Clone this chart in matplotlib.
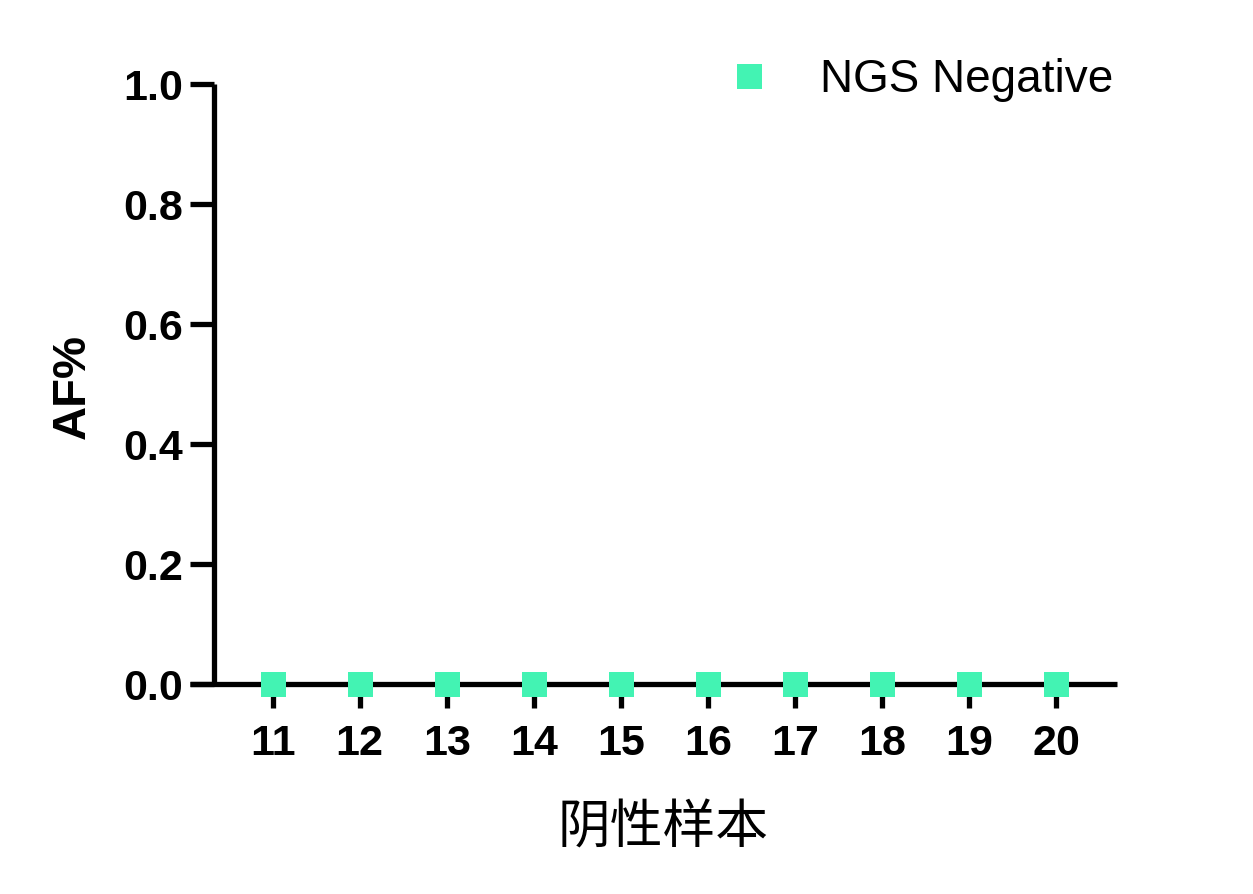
import matplotlib
matplotlib.use("Agg")
import matplotlib.pyplot as plt
from matplotlib.lines import Line2D

samples = [11, 12, 13, 14, 15, 16, 17, 18, 19, 20]
af_values = [0, 0, 0, 0, 0, 0, 0, 0, 0, 0]
yticks = [0.0, 0.2, 0.4, 0.6, 0.8, 1.0]
series_label = "NGS Negative"
color = "#43F3B3"

W, H = 1253, 894
fig = plt.figure(figsize=(W / 100, H / 100), dpi=100)
ax = fig.add_axes([190 / W, (H - 684) / H, (1117 - 190) / W, 600 / H])

ax.plot(samples, af_values, linestyle="none", marker="s", markersize=18,
        color=color, markeredgewidth=0, zorder=5, clip_on=False)

ax.set_xlim(10.05, 20.70)
ax.set_ylim(0, 1.0)
ax.spines["left"].set_position(("data", 10.325))
ax.spines["top"].set_visible(False)
ax.spines["right"].set_visible(False)
for s in ("left", "bottom"):
    ax.spines[s].set_linewidth(3.8)
    ax.spines[s].set_capstyle("butt")

ax.set_xticks(samples)
ax.set_xticklabels([str(s) for s in samples])
ax.set_yticks(yticks)
ax.set_yticklabels([f"{v:.1f}" for v in yticks])
ax.tick_params(axis="both", direction="out", length=17, width=3.8,
               labelsize=31)
ax.tick_params(axis="x", pad=12)
ax.tick_params(axis="y", pad=5)
for lab in ax.get_xticklabels() + ax.get_yticklabels():
    lab.set_fontweight("bold")
    lab.set_fontfamily("Liberation Sans")

fig.text(73 / W, 1 - 386 / H, "AF%", rotation=90, ha="center", va="center",
         fontsize=34, fontweight="bold", family="Liberation Sans")
fig.text(663 / W, 1 - 828 / H, "阴性样本", ha="center", va="center",
         fontsize=38, family=["Noto Sans CJK SC", "DejaVu Sans"])

handle = Line2D([], [], linestyle="none", marker="s", markersize=18,
                color=color, markeredgewidth=0)
leg = fig.legend([handle], [series_label], loc="center left",
                 bbox_to_anchor=(735 / W, 1 - 80 / H), frameon=False,
                 handlelength=0.6, handletextpad=1.26, borderpad=0,
                 borderaxespad=0,
                 prop={"family": "Liberation Sans", "size": 33})

fig.savefig("out.png", dpi=100)
